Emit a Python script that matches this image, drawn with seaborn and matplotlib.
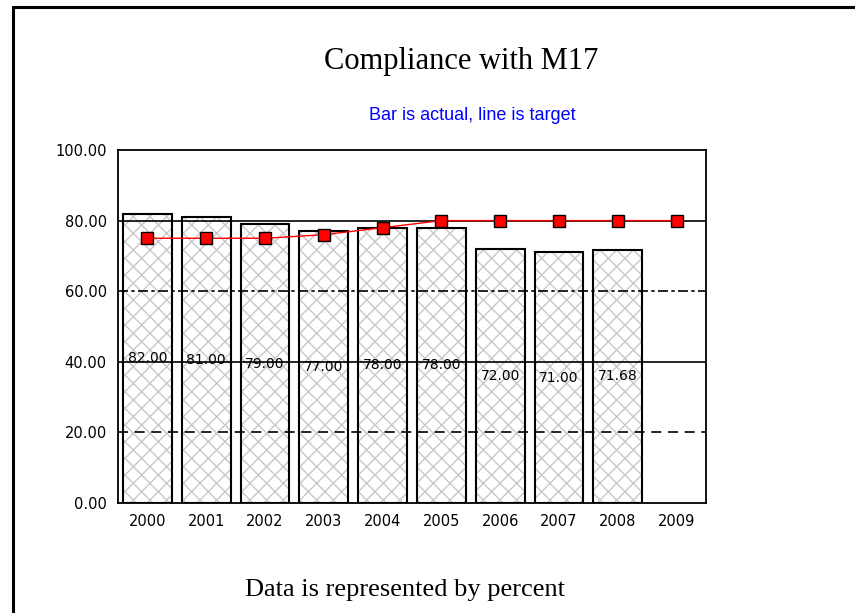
import numpy as np
import pandas as pd
import seaborn as sns
import matplotlib.pyplot as plt
from matplotlib.lines import Line2D

sns.set_style("white")
plt.rcParams['font.family'] = ['DejaVu Sans']
plt.rcParams['text.color'] = 'black'
plt.rcParams['hatch.linewidth'] = 1.0

years = ['2000', '2001', '2002', '2003', '2004', '2005', '2006', '2007', '2008', '2009']
actual = [82.00, 81.00, 79.00, 77.00, 78.00, 78.00, 72.00, 71.00, 71.68, np.nan]
target = [75, 75, 75, 76, 78, 80, 80, 80, 80, 80]

df = pd.DataFrame({"year": years, "actual": actual, "target": target})

fig = plt.figure(figsize=(8.55, 6.13), dpi=100)
ax = fig.add_axes([118/855, 110/613, 588/855, 353/613])

# hatched fill, then black outline on top
sns.barplot(data=df, x="year", y="actual", order=years, color="white",
            edgecolor="#c8c8c8", hatch="xx", linewidth=0, width=0.83,
            errorbar=None, ax=ax, zorder=1)
sns.barplot(data=df, x="year", y="actual", order=years, fill=False,
            edgecolor="black", linewidth=1.5, width=0.83,
            errorbar=None, ax=ax, zorder=2)

# grid lines over the bars
for val, ls in [(20, (0, (6, 4))), (40, '-'), (60, (0, (6, 2, 2, 2))), (80, '-')]:
    ax.axhline(val, color="black", linewidth=1.2, linestyle=ls, zorder=3)

sns.pointplot(data=df, x="year", y="target", order=years, color="red",
              marker="s", markersize=9, markeredgecolor="black",
              markeredgewidth=1, linewidth=1, ax=ax, zorder=5)

# value labels at half bar height
for i, v in enumerate(actual):
    if not np.isnan(v):
        ax.text(i, v / 2, f"{v:.2f}", ha="center", va="center",
                fontsize=10, color="black", zorder=4)

ax.set_xlim(-0.5, 9.5)
ax.set_ylim(0, 100)
ax.set_yticks([0, 20, 40, 60, 80, 100])
ax.set_yticklabels([f"{t:.2f}" for t in [0, 20, 40, 60, 80, 100]])
ax.set_xlabel("")
ax.set_ylabel("")
ax.tick_params(axis="both", labelsize=10.5, colors="black", length=3)
ax.tick_params(axis="x", length=0, pad=8)
ax.tick_params(axis="y", pad=5)
for s in ax.spines.values():
    s.set_color("black")
    s.set_linewidth(1.3)

fig.text(461/855, 1 - 62/613, "Compliance with M17", ha="center", va="center",
         fontsize=22, family="Liberation Serif")
fig.text(472/855, 1 - 115/613, "Bar is actual, line is target", ha="center",
         va="center", fontsize=13, color="#0000ff", family="Liberation Sans")
fig.text(405/855, 1 - 590/613, "Data is represented by percent", ha="center",
         va="center", fontsize=19, family="Liberation Serif")

# page frame on the left and top
fig.add_artist(Line2D([12.5/855, 12.5/855], [0, 1 - 6.5/613], color="black", linewidth=2.2))
fig.add_artist(Line2D([12.5/855, 1], [1 - 6.5/613, 1 - 6.5/613], color="black", linewidth=2.2))

fig.savefig("out.png", dpi=100)
